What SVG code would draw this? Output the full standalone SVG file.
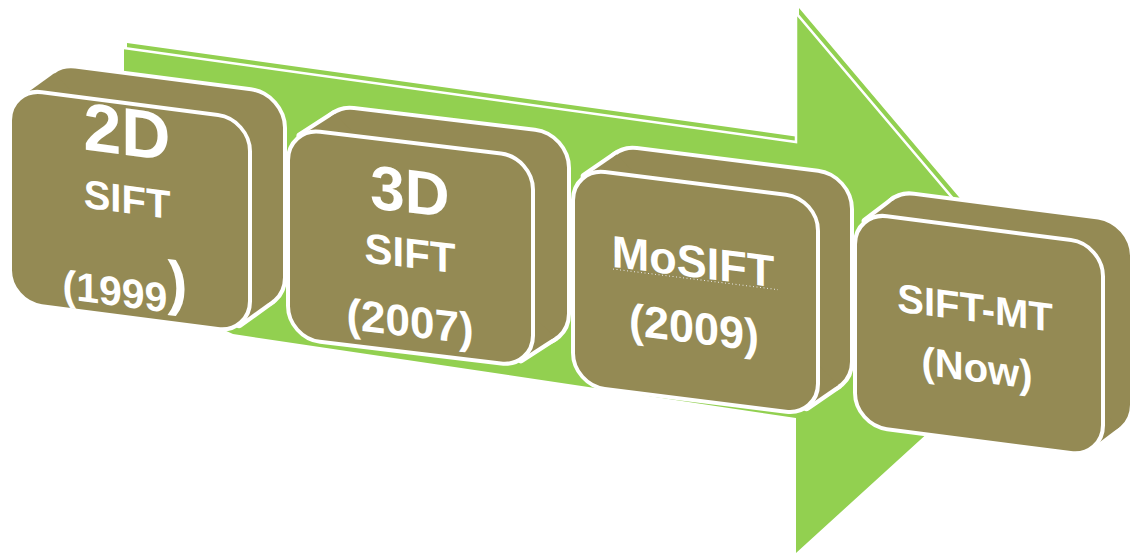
<svg xmlns="http://www.w3.org/2000/svg" width="1134" height="554" viewBox="0 0 1134 554">
  <style>
    .arrow { fill: #92D050; }
    .arrow-edge { fill: none; stroke: #ffffff; stroke-width: 2.5; stroke-linejoin: miter; }
    .ext-line { fill: #948A54; stroke: #ffffff; stroke-width: 8; stroke-linejoin: round; }
    .ext-fill { fill: #948A54; stroke: none; }
    .face { fill: #948A54; stroke: #ffffff; stroke-width: 4; }
    .label { font-family: "Liberation Sans", Arial, sans-serif; font-weight: bold; fill: #ffffff; text-anchor: middle; }
    .dots { stroke: #e6e6e6; stroke-width: 1; stroke-dasharray: 1 2.5; }
  </style>

  <!-- timeline arrow behind the boxes -->
  <g id="connectors">
    <g id="timeline-arrow">
      <!-- raised back layer, shows as a thin strip along the top edges -->
      <polygon class="arrow" points="127,43 799,137 799,8 1057,313 799,548 799,413 236,329 127,280"/>
      <!-- front layer -->
      <polygon class="arrow" points="124,48 796,142 796,13 1054,318 796,553 796,418 233,334 124,285"/>
      <polyline class="arrow-edge" points="124,48 796,142 796,13 1054,318"/>
    </g>
  </g>

  <!-- 2D SIFT (1999) -->
  <g id="node-2d-sift" transform="translate(10,88) skewY(7.41)">
    <rect class="ext-line" x="33" y="-28" width="240" height="214" rx="32"/>
    <polygon class="ext-line" points="11.3,7.6 44.3,-20.4 261.7,178.4 228.7,206.4"/>
    <rect class="ext-fill" x="33" y="-28" width="240" height="214" rx="32"/>
    <polygon class="ext-fill" points="11.3,7.6 44.3,-20.4 261.7,178.4 228.7,206.4"/>
    <rect class="face" x="0" y="0" width="240" height="214" rx="32"/>
    <text class="label" x="117" y="52" font-size="68">2D</text>
    <text class="label" x="117" y="110" font-size="40">SIFT</text>
    <text class="label" x="115" y="204" font-size="41">(1999<tspan font-size="60" dy="-10">)</tspan></text>
  </g>

  <!-- 3D SIFT (2007) -->
  <g id="node-3d-sift" transform="translate(288,128) skewY(6.84)">
    <rect class="ext-line" x="34" y="-26" width="245" height="210" rx="32"/>
    <polygon class="ext-line" points="12.6,6.6 46.6,-19.4 266.4,177.4 232.4,203.4"/>
    <rect class="ext-fill" x="34" y="-26" width="245" height="210" rx="32"/>
    <polygon class="ext-fill" points="12.6,6.6 46.6,-19.4 266.4,177.4 232.4,203.4"/>
    <rect class="face" x="0" y="0" width="245" height="210" rx="32"/>
    <text class="label" x="122" y="70" font-size="62">3D</text>
    <text class="label" x="122" y="125" font-size="42">SIFT</text>
    <text class="label" x="122" y="194" font-size="44">(2007)</text>
  </g>

  <!-- MoSIFT (2009) -->
  <g id="node-mosift" transform="translate(573,168) skewY(7.13)">
    <rect class="ext-line" x="32" y="-26" width="245" height="217" rx="32"/>
    <polygon class="ext-line" points="11.8,7.1 43.8,-18.9 265.2,183.9 233.2,209.9"/>
    <rect class="ext-fill" x="32" y="-26" width="245" height="217" rx="32"/>
    <polygon class="ext-fill" points="11.8,7.1 43.8,-18.9 265.2,183.9 233.2,209.9"/>
    <rect class="face" x="0" y="0" width="245" height="217" rx="32"/>
    <text class="label" x="120" y="94" font-size="45">MoSIFT</text>
    <line class="dots" x1="40" y1="96" x2="205" y2="96"/>
    <text class="label" x="121" y="160" font-size="45">(2009)</text>
  </g>

  <!-- SIFT-MT (Now) -->
  <g id="node-sift-mt" transform="translate(855,212) skewY(7.41)">
    <rect class="ext-line" x="27" y="-24" width="248" height="213" rx="32"/>
    <polygon class="ext-line" points="10.7,8.1 37.7,-15.9 264.3,180.9 237.3,204.9"/>
    <rect class="ext-fill" x="27" y="-24" width="248" height="213" rx="32"/>
    <polygon class="ext-fill" points="10.7,8.1 37.7,-15.9 264.3,180.9 237.3,204.9"/>
    <rect class="face" x="0" y="0" width="248" height="213" rx="32"/>
    <text class="label" x="120" y="94" font-size="40">SIFT-MT</text>
    <text class="label" x="122" y="154" font-size="40">(Now)</text>
  </g>
</svg>
